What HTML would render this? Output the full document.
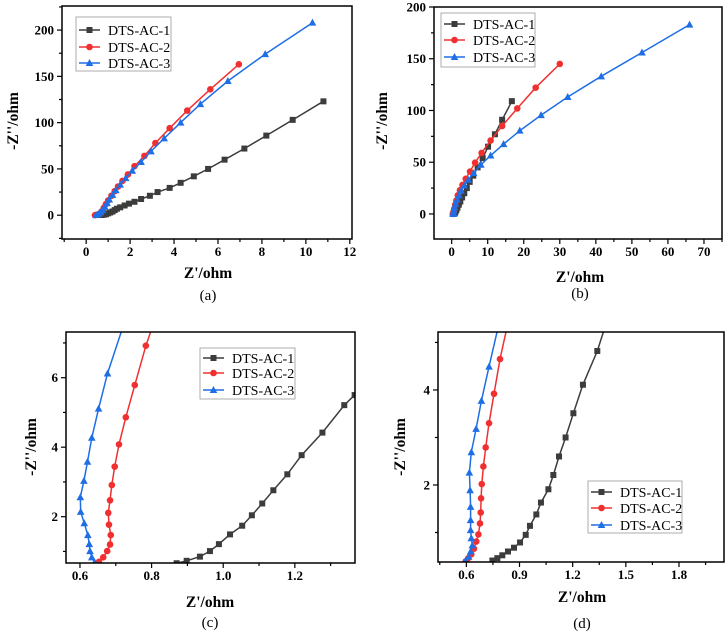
<!DOCTYPE html>
<html><head><meta charset="utf-8"><style>
html,body{margin:0;padding:0;background:#fff;}
svg{display:block;font-family:"Liberation Serif",serif;}
</style></head><body>
<svg id="fig" width="728" height="633" viewBox="0 0 728 633" xmlns="http://www.w3.org/2000/svg"></svg>
<script>
// ---- Panel (a) data ----
const aS1x=[0.7,0.8,0.9,1.0,1.1,1.2,1.3,1.4,1.55,1.75,1.95,2.2,2.5,2.9,3.25,3.8,4.3,4.9,5.55,6.3,7.2,8.2,9.4,10.8];
const aS1y=[0.2,0.5,1,2,3,4,5.5,7,8.5,10.5,12.5,14.5,17.5,21,25,29.5,35,42,50,60,72,86,103,123];
const aS2x=[0.4,0.5,0.6,0.7,0.8,0.9,1.0,1.15,1.3,1.45,1.65,1.9,2.2,2.65,3.15,3.8,4.6,5.65,6.95];
const aS2y=[0,0.5,1.5,4,8,12,16,21,26,31,37,44,53,64,78,94,113,136,163];
const aS3x=[0.45,0.55,0.65,0.75,0.85,0.95,1.05,1.2,1.35,1.55,1.8,2.1,2.5,2.95,3.55,4.3,5.2,6.45,8.15,10.3];
const aS3y=[0.2,1,3,5.5,9,13,17,22,27,33,40,48,57.5,69,83,100,120,145,174,208];
const aXTicks=[0,2,4,6,8,10,12];
const aYTicks=[0,50,100,150,200];
// ---- Panel (b) data ----
const bS1x=[0.8,1,1.3,1.6,2,2.4,2.9,3.5,4.2,5,6,7.2,8.6,10.1,12,14,16.7];
const bS1y=[0.5,1.5,3.5,6,9,12,16,20,25,31,37,45,54,65,77,91,109];
const bS2x=[0.3,0.5,0.7,1,1.3,1.7,2.3,3,3.9,5.1,6.5,8.3,10.8,14,18.2,23.3,30];
const bS2y=[0,2,5,9,13,18,23,28,34,41,49.5,59,71,85,102,122,145];
const bS3x=[0.4,0.5,0.6,0.8,1.1,1.5,2,2.6,3.5,4.6,6.1,8.1,10.8,14.4,18.9,24.8,32.2,41.5,52.8,66];
const bS3y=[0,1,3.5,6.5,10,14,18,22.5,27.5,33,39.5,47.5,56.5,67.5,80.5,95.5,113,133,156,183];
const bXTicks=[0,10,20,30,40,50,60,70];
const bYTicks=[0,50,100,150,200];
// ---- Panel (c) data ----
const cS1x=[0.870,0.898,0.935,0.963,0.988,1.019,1.053,1.080,1.109,1.140,1.179,1.219,1.277,1.338,1.367];
const cS1y=[0.66,0.73,0.85,1.01,1.21,1.49,1.74,2.04,2.38,2.76,3.22,3.77,4.42,5.21,5.50];
const cS2x=[0.653,0.665,0.676,0.684,0.686,0.681,0.679,0.684,0.689,0.697,0.709,0.728,0.753,0.784,0.800];
const cS2y=[0.70,0.83,1.01,1.20,1.47,1.77,2.11,2.47,2.91,3.44,4.08,4.86,5.79,6.92,7.40];
const cS3x=[0.641,0.633,0.628,0.626,0.622,0.612,0.602,0.601,0.611,0.621,0.633,0.652,0.677,0.718];
const cS3y=[0.69,0.83,1.01,1.21,1.47,1.81,2.14,2.56,3.03,3.58,4.27,5.11,6.12,7.40];
const cXTicks=[0.6,0.8,1.0,1.2];
const cYTicks=[2,4,6];
// ---- Panel (d) data ----
const dS1x=[0.747,0.775,0.803,0.835,0.869,0.903,0.935,0.959,0.995,1.021,1.063,1.091,1.123,1.160,1.204,1.258,1.339,1.380];
const dS1y=[0.41,0.46,0.52,0.60,0.68,0.79,0.95,1.14,1.38,1.63,1.91,2.21,2.60,3.00,3.51,4.11,4.82,5.30];
const dS2x=[0.596,0.611,0.628,0.643,0.656,0.668,0.677,0.681,0.683,0.687,0.696,0.709,0.728,0.756,0.790,0.828];
const dS2y=[0.39,0.46,0.54,0.66,0.81,0.96,1.19,1.42,1.72,2.02,2.39,2.79,3.30,3.92,4.65,5.30];
const dS3x=[0.596,0.613,0.624,0.634,0.628,0.624,0.624,0.624,0.621,0.617,0.628,0.655,0.685,0.728,0.778];
const dS3y=[0.41,0.49,0.60,0.73,0.88,1.05,1.26,1.54,1.89,2.26,2.69,3.18,3.77,4.49,5.30];
const dXTicks=[0.6,0.9,1.2,1.5,1.8];
const dYTicks=[2,4];
const seriesNames=["DTS-AC-1","DTS-AC-2","DTS-AC-3"];

const NS="http://www.w3.org/2000/svg";
const svg=document.getElementById('fig');
const colors=["#3c3c3c","#f03030","#1e6ee6"];
function mk(tag,attrs,parent){const e=document.createElementNS(NS,tag);for(const k in attrs)e.setAttribute(k,attrs[k]);(parent||svg).appendChild(e);return e;}

function panel(p){
  const g=mk('g',{});
  
  
  const sx=v=>p.L+(v-p.xd[0])/(p.xd[1]-p.xd[0])*(p.R-p.L);
  const sy=v=>p.B-(v-p.yd[0])/(p.yd[1]-p.yd[0])*(p.B-p.T);
  const cid='clip'+p.id;
  const cp=mk('clipPath',{id:cid},g);mk('rect',{x:p.L,y:p.T,width:p.R-p.L,height:p.B-p.T},cp);
  // ticks
  const fmt=p.fmt||(v=>String(v));
  for(let v=p.xMinorStart;v<=p.xd[1]+1e-9;v+=p.xMinor){
    if(v<p.xd[0])continue;const x=sx(v);
    const major=p.xTicks.some(t=>Math.abs(t-v)<1e-6);
    mk('line',{x1:x,x2:x,y1:p.B,y2:p.B+(major?5:3),stroke:'#000','stroke-width':1.2},g);
  }
  p.xTicks.forEach(t=>{
    const tx=mk('text',{x:sx(t),y:p.B+17,'text-anchor':'middle','font-size':13,'font-weight':'bold'},g);
    
    
    tx.textContent=fmt(t);
  });
  for(let v=p.yMinorStart;v<=p.yd[1]+1e-9;v+=p.yMinor){
    if(v<p.yd[0])continue;const y=sy(v);
    const major=p.yTicks.some(t=>Math.abs(t-v)<1e-6);
    mk('line',{x1:p.L,x2:p.L-(major?5:3),y1:y,y2:y,stroke:'#000','stroke-width':1.2},g);
  }
  p.yTicks.forEach(t=>{
    const tx=mk('text',{x:p.L-8,y:sy(t)+4.5,'text-anchor':'end','font-size':13,'font-weight':'bold'},g);
    
    
    tx.textContent=String(t);
  });
  // series
  const sg=mk('g',{'clip-path':'url(#'+cid+')'},g);
  p.series.forEach((s,i)=>{
    const pts=s.x.map((v,j)=>sx(v).toFixed(1)+','+sy(s.y[j]).toFixed(1)).join(' ');
    const pl=mk('polyline',{points:pts,fill:'none',stroke:colors[i],'stroke-width':1.5},sg);
    
    
    s.x.forEach((v,j)=>{
      if(v>p.xd[1]||s.y[j]>p.yd[1])return;
      marker(sg,i,sx(v),sy(s.y[j]));
    });
  });
  // frame
  const fr=mk('rect',{x:p.L,y:p.T,width:p.R-p.L,height:p.B-p.T,fill:'none',stroke:'#000','stroke-width':1.5},g);
  
  
  // legend
  const lg=mk('g',{},g);
  
  
  mk('rect',{x:p.lg[0],y:p.lg[1],width:p.lg[2],height:p.lg[3],fill:'#fff',stroke:'#999','stroke-width':0.8},lg);
  seriesNames.forEach((n,i)=>{
    const y=p.lg[1]+p.lgy[i];
    const x0=p.lg[0]+3;
    mk('line',{x1:x0,x2:x0+21,y1:y,y2:y,stroke:colors[i],'stroke-width':1.5},lg);
    marker(lg,i,x0+10.5,y);
    const t=mk('text',{x:x0+29,y:y+5,'font-size':14},lg);
    
    
    t.textContent=n;
  });
  // titles
  const xt=mk('text',{x:p.xtx,y:p.xty,'text-anchor':'middle','font-size':15.5,'font-weight':'bold'},g);
  
  
  xt.textContent="Z'/ohm";
  const yt=mk('text',{x:0,y:0,'text-anchor':'middle','font-size':15.5,'font-weight':'bold',transform:'translate('+p.ytx+','+p.yty+') rotate(-90)'},g);
  
  
  yt.textContent="-Z''/ohm";
  const cap=mk('text',{x:p.xtx,y:p.capy,'text-anchor':'middle','font-size':15},g);
  
  
  cap.textContent='('+p.id+')';
}
function marker(parent,i,x,y){
  let m;
  if(i===0)m=mk('rect',{x:x-3,y:y-3,width:6,height:6,fill:colors[0]},parent);
  else if(i===1)m=mk('circle',{cx:x,cy:y,r:3.3,fill:colors[1]},parent);
  else m=mk('polygon',{points:(x)+','+(y-4)+' '+(x-3.8)+','+(y+3)+' '+(x+3.8)+','+(y+3),fill:colors[2]},parent);
  
  
}

panel({id:'a',L:62,R:352,T:6,B:239,xd:[-1.1,12.1],yd:[-25.7,226],
  xTicks:aXTicks,yTicks:aYTicks,xMinor:1,xMinorStart:-1,yMinor:25,yMinorStart:-25,
  series:[{x:aS1x,y:aS1y},{x:aS2x,y:aS2y},{x:aS3x,y:aS3y}],
  lg:[76,17,95,54],lgy:[13,30,46],xtx:208,xty:278,ytx:18,yty:121,capy:300});
panel({id:'b',L:434,R:722,T:7,B:239,xd:[-4.9,75],yd:[-24.2,200],
  xTicks:bXTicks,yTicks:bYTicks,xMinor:5,xMinorStart:0,yMinor:25,yMinorStart:0,
  series:[{x:bS1x,y:bS1y},{x:bS2x,y:bS2y},{x:bS3x,y:bS3y}],
  lg:[441,13,94,54],lgy:[11,27,44],xtx:580,xty:282,ytx:387,yty:121,capy:298});
panel({id:'c',L:66,R:355,T:332,B:563,xd:[0.561,1.368],yd:[0.667,7.315],fmt:v=>v.toFixed(1),
  xTicks:cXTicks,yTicks:cYTicks,xMinor:0.1,xMinorStart:0.6,yMinor:1,yMinorStart:1,
  series:[{x:cS1x,y:cS1y},{x:cS2x,y:cS2y},{x:cS3x,y:cS3y}],
  lg:[200,348,95,51],lgy:[10,25,42],xtx:210,xty:607,ytx:36,yty:447,capy:627});
panel({id:'d',L:438,R:724,T:332,B:562,xd:[0.44,2.054],yd:[0.379,5.22],fmt:v=>v.toFixed(1),
  xTicks:dXTicks,yTicks:dYTicks,xMinor:0.15,xMinorStart:0.45,yMinor:1,yMinorStart:1,
  series:[{x:dS1x,y:dS1y},{x:dS2x,y:dS2y},{x:dS3x,y:dS3y}],
  lg:[588,481,94,52],lgy:[11,27,44],xtx:582,xty:602,ytx:405,yty:447,capy:628});
</script>
</body></html>
